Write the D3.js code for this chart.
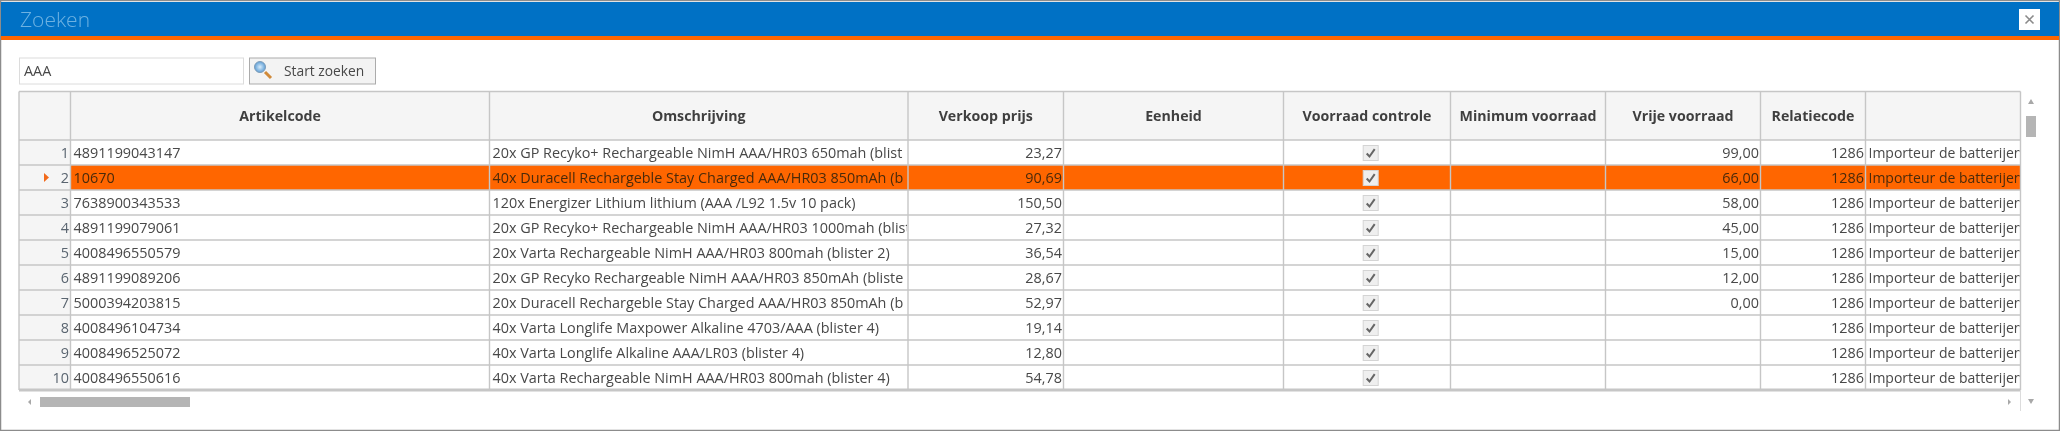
<!DOCTYPE html>
<html>
<head>
<meta charset="utf-8">
<script src="https://cdnjs.cloudflare.com/ajax/libs/d3/7.8.5/d3.min.js"></script>
<style>
  html, body { margin: 0; padding: 0; background: #fff; overflow: hidden; }
  text { font-family: "Open Sans", "Noto Sans", sans-serif; }
  svg { filter: blur(0.45px); }
</style>
</head>
<body>
<div id="chart"></div>
<script>
const columns = ['Artikelcode', 'Omschrijving', 'Verkoop prijs', 'Eenheid', 'Voorraad controle', 'Minimum voorraad', 'Vrije voorraad', 'Relatiecode', ''];
const rowNumbers = [1, 2, 3, 4, 5, 6, 7, 8, 9, 10];
const artikelcode = ['4891199043147', '10670', '7638900343533', '4891199079061', '4008496550579', '4891199089206', '5000394203815', '4008496104734', '4008496525072', '4008496550616'];
const omschrijving = [
  '20x GP Recyko+ Rechargeable NimH AAA/HR03 650mah (blist',
  '40x Duracell Rechargeble Stay Charged AAA/HR03 850mAh (b',
  '120x Energizer Lithium lithium (AAA /L92 1.5v 10 pack)',
  '20x GP Recyko+ Rechargeable NimH AAA/HR03 1000mah (blist',
  '20x Varta Rechargeable NimH AAA/HR03 800mah (blister 2)',
  '20x GP Recyko Rechargeable NimH AAA/HR03 850mAh (bliste',
  '20x Duracell Rechargeble Stay Charged AAA/HR03 850mAh (b',
  '40x Varta Longlife Maxpower Alkaline 4703/AAA (blister 4)',
  '40x Varta Longlife Alkaline AAA/LR03 (blister 4)',
  '40x Varta Rechargeable NimH AAA/HR03 800mah (blister 4)'
];
const verkoopPrijs = ['23,27', '90,69', '150,50', '27,32', '36,54', '28,67', '52,97', '19,14', '12,80', '54,78'];
const vrijeVoorraad = ['99,00', '66,00', '58,00', '45,00', '15,00', '12,00', '0,00', '', '', ''];
const relatiecode = ['1286', '1286', '1286', '1286', '1286', '1286', '1286', '1286', '1286', '1286'];
const relatieNaam = 'Importeur de batterijen';
const selectedRow = 2;

const W = 2060, H = 431;
const grid = { left: 19, indicator: 70.5, top: 91.5, headBottom: 140, bottom: 390, right: 2020.5 };
const colEdges = [70.5, 489.5, 908, 1063.5, 1283.5, 1450.5, 1605.5, 1760.5, 1865.5, 2020.5];
const lineColor = '#c6c6c6', textColor = '#484848', orange = '#ff6600';
const fontSize = 14.4;

const colX = d3.scaleOrdinal().domain(columns).range(colEdges.slice(0, -1));
const colW = d3.scaleOrdinal().domain(columns).range(d3.pairs(colEdges).map(p => p[1] - p[0]));
const rowY = d3.scaleBand().domain(rowNumbers).range([grid.headBottom, grid.bottom]);

const svg = d3.select('#chart').append('svg')
  .attr('width', W).attr('height', H)
  .style('display', 'block');

const defs = svg.append('defs');
const glass = defs.append('radialGradient').attr('id', 'glass');
glass.append('stop').attr('offset', '0%').attr('stop-color', '#d8ecfb');
glass.append('stop').attr('offset', '100%').attr('stop-color', '#5f9fd6');

// window frame + title bar
svg.append('rect').attr('x', 0.5).attr('y', 0.5).attr('width', W - 1).attr('height', H - 1)
  .attr('fill', '#fff').attr('stroke', '#8c8c8c').attr('stroke-width', 1.5);
svg.append('rect').attr('x', 1).attr('y', 2).attr('width', W - 2).attr('height', 34).attr('fill', '#0071c5');
svg.append('rect').attr('x', 1).attr('y', 36).attr('width', W - 2).attr('height', 4).attr('fill', orange);
svg.append('text').attr('x', 20).attr('y', 27).text('Zoeken')
  .attr('fill', '#6db2e2').attr('font-size', 21).style('font-weight', 300);

// close button
svg.append('rect').attr('x', 2019).attr('y', 9).attr('width', 21).attr('height', 21).attr('fill', '#fff');
svg.append('path').attr('d', 'M2025.5 15.5L2033.5 23.5M2033.5 15.5L2025.5 23.5')
  .attr('stroke', '#8a8a8a').attr('stroke-width', 1.6);

// search box + button
svg.append('rect').attr('x', 19.5).attr('y', 58).attr('width', 224).attr('height', 26)
  .attr('fill', '#fff').attr('stroke', '#dcdcdc');
svg.append('text').attr('x', 24).attr('y', 76).text('AAA')
  .attr('fill', textColor).attr('font-size', fontSize);
svg.append('rect').attr('x', 249.5).attr('y', 58).attr('width', 126).attr('height', 26)
  .attr('fill', '#f3f3f3').attr('stroke', '#ababab');
svg.append('circle').attr('cx', 260).attr('cy', 67).attr('r', 5.5)
  .attr('fill', 'url(#glass)').attr('stroke', '#7f9db8');
svg.append('path').attr('d', 'M265 72L271 78').attr('stroke', '#d08a3a').attr('stroke-width', 3);
svg.append('text').attr('x', 284).attr('y', 76).text('Start zoeken')
  .attr('fill', textColor).attr('font-size', 13.8);

// header and indicator backgrounds
svg.append('rect').attr('x', grid.left).attr('y', grid.top)
  .attr('width', grid.right - grid.left).attr('height', grid.headBottom - grid.top).attr('fill', '#f5f5f5');
svg.append('rect').attr('x', grid.left).attr('y', grid.headBottom)
  .attr('width', grid.indicator - grid.left).attr('height', grid.bottom - grid.headBottom).attr('fill', '#f5f5f5');

// selected row
svg.append('rect').attr('x', grid.indicator).attr('y', rowY(selectedRow))
  .attr('width', grid.right - grid.indicator).attr('height', rowY.bandwidth()).attr('fill', orange);

// grid lines
const hLines = [grid.top, grid.headBottom].concat(rowNumbers.map(r => rowY(r) + rowY.bandwidth()));
svg.append('g').selectAll('line').data(hLines).join('line')
  .attr('x1', grid.left).attr('x2', grid.right)
  .attr('y1', d => d).attr('y2', d => d)
  .attr('stroke', lineColor).attr('stroke-width', (d, i) => i === hLines.length - 1 ? 3 : 1.5);
svg.append('g').selectAll('line').data([grid.left, grid.indicator].concat(colEdges.slice(1))).join('line')
  .attr('x1', d => d).attr('x2', d => d)
  .attr('y1', grid.top).attr('y2', grid.bottom)
  .attr('stroke', lineColor).attr('stroke-width', 1.4);

// header labels
svg.append('g').selectAll('text').data(columns).join('text')
  .attr('x', d => colX(d) + colW(d) / 2).attr('y', 121)
  .attr('text-anchor', 'middle').attr('fill', '#3f3f3f')
  .attr('font-size', 14.2).attr('font-weight', 700)
  .text(d => d);

// clip per column so long text gets cut at the cell edge
columns.forEach((c, i) => {
  defs.append('clipPath').attr('id', 'clip' + i).append('rect')
    .attr('x', colX(c) + 1).attr('y', grid.top)
    .attr('width', colW(c) - 2).attr('height', grid.bottom - grid.top);
});

function drawColumn(colIndex, values, anchor, size) {
  const c = columns[colIndex];
  const tx = anchor === 'end' ? colX(c) + colW(c) - 1.5 : colX(c) + 3;
  svg.append('g').attr('clip-path', `url(#clip${colIndex})`)
    .selectAll('text').data(values).join('text')
    .attr('x', tx)
    .attr('y', (d, i) => rowY(rowNumbers[i]) + 18)
    .attr('text-anchor', anchor)
    .attr('fill', (d, i) => rowNumbers[i] === selectedRow ? '#4a2a0a' : textColor)
    .attr('font-size', size || fontSize)
    .text(d => d);
}

drawColumn(0, artikelcode, 'start');
drawColumn(1, omschrijving, 'start');
drawColumn(2, verkoopPrijs, 'end');
drawColumn(6, vrijeVoorraad, 'end');
drawColumn(7, relatiecode, 'end');
drawColumn(8, rowNumbers.map(() => relatieNaam), 'start', 14);

// row numbers
svg.append('g').selectAll('text').data(rowNumbers).join('text')
  .attr('x', grid.indicator - 1.5).attr('y', d => rowY(d) + 18)
  .attr('text-anchor', 'end').attr('fill', '#5a6570').attr('font-size', fontSize)
  .text(d => d);

// selected row marker
svg.append('path')
  .attr('d', d3.line()([[44, rowY(selectedRow) + 8], [49, rowY(selectedRow) + 12.5], [44, rowY(selectedRow) + 17]]) + 'Z')
  .attr('fill', '#f26a1b');

// checkboxes
const checkX = colX(columns[4]) + colW(columns[4]) / 2 + 3.7;
const checks = svg.append('g').selectAll('g').data(rowNumbers).join('g')
  .attr('transform', d => `translate(${checkX},${rowY(d) + rowY.bandwidth() / 2 + 0.5})`);
checks.append('rect').attr('x', -7.5).attr('y', -7.5).attr('width', 15).attr('height', 15)
  .attr('fill', '#efefef').attr('stroke', '#d4d4d4');
checks.append('path').attr('d', 'M-4 0.5L-1.2 3.5L4 -3.8')
  .attr('fill', 'none').attr('stroke', '#666').attr('stroke-width', 2);

// scrollbars
svg.append('rect').attr('x', 2026).attr('y', 116).attr('width', 10).attr('height', 21).attr('fill', '#b5b5b5');
svg.append('rect').attr('x', 40).attr('y', 397).attr('width', 150).attr('height', 10).attr('fill', '#b5b5b5');
svg.append('line').attr('x1', grid.right).attr('x2', grid.right).attr('y1', grid.bottom).attr('y2', 411)
  .attr('stroke', '#dcdcdc');
const arrow = '#a8a8a8';
svg.append('path').attr('d', 'M2031 99L2034 104L2028 104Z').attr('fill', arrow);
svg.append('path').attr('d', 'M2031 404L2034 399L2028 399Z').attr('fill', arrow);
svg.append('path').attr('d', 'M28 402L31 399L31 405Z').attr('fill', arrow);
svg.append('path').attr('d', 'M2011 402L2008 399L2008 405Z').attr('fill', arrow);
</script>
</body>
</html>
